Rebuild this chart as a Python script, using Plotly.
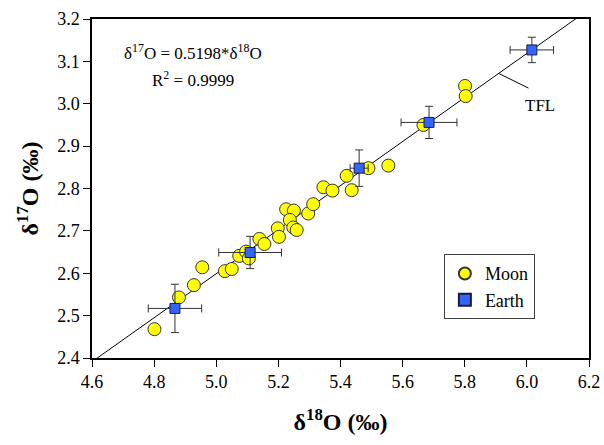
import plotly.graph_objects as go

# Moon samples (delta18O, delta17O)
moon_d18 = [4.801, 4.880, 4.928, 4.955, 5.028, 5.050, 5.074, 5.096, 5.105, 5.139,
            5.155, 5.198, 5.202, 5.225, 5.250, 5.237, 5.248, 5.259, 5.296, 5.312,
            5.345, 5.374, 5.420, 5.436, 5.490, 5.554, 5.667, 5.801, 5.803]
moon_d17 = [2.468, 2.543, 2.572, 2.614, 2.605, 2.610, 2.641, 2.651, 2.635, 2.681,
            2.669, 2.706, 2.686, 2.751, 2.748, 2.726, 2.708, 2.702, 2.741, 2.763,
            2.803, 2.795, 2.830, 2.796, 2.848, 2.854, 2.950, 3.042, 3.018]

# Earth samples with uncertainties
earth_d18 = [4.867, 5.109, 5.460, 5.685, 6.016]
earth_d17 = [2.517, 2.649, 2.848, 2.956, 3.127]
earth_err18 = [0.086, 0.101, 0.029, 0.090, 0.070]
earth_err17 = [0.057, 0.038, 0.043, 0.038, 0.030]

# Terrestrial fractionation line
slope = 0.5198
line_x = [4.6, 6.2]
line_y = [slope * v for v in line_x]

x_ticks = [4.6, 4.8, 5.0, 5.2, 5.4, 5.6, 5.8, 6.0, 6.2]
y_ticks = [2.4, 2.5, 2.6, 2.7, 2.8, 2.9, 3.0, 3.1, 3.2]

FONT = "Liberation Serif, Times New Roman, serif"

fig = go.Figure()
fig.add_trace(go.Scatter(x=line_x, y=line_y, mode="lines",
                         line=dict(color="black", width=1), showlegend=False,
                         hoverinfo="skip"))
fig.add_trace(go.Scatter(x=moon_d18, y=moon_d17, mode="markers", name="Moon",
                         marker=dict(symbol="circle", size=13, color="#FFFF00",
                                     line=dict(color="#333333", width=1))))
fig.add_trace(go.Scatter(x=earth_d18, y=earth_d17, mode="markers", name="Earth",
                         marker=dict(symbol="square", size=10, color="#3366FF",
                                     line=dict(color="#1a1a40", width=1)),
                         error_x=dict(type="data", array=earth_err18, color="#333333",
                                      thickness=1, width=4),
                         error_y=dict(type="data", array=earth_err17, color="#333333",
                                      thickness=1, width=4)))

# TFL leader line and label
fig.add_shape(type="line", x0=5.908, y0=3.072, x1=6.005, y1=3.037,
              line=dict(color="black", width=1))
fig.add_annotation(x=6.042, y=2.997, text="TFL", showarrow=False,
                   font=dict(family=FONT, size=17, color="black"))

fig.add_annotation(x=4.925, y=3.121, text="δ<sup>17</sup>O = 0.5198*δ<sup>18</sup>O",
                   showarrow=False, font=dict(family=FONT, size=17, color="black"))
fig.add_annotation(x=4.925, y=3.058, text="R<sup>2</sup> = 0.9999",
                   showarrow=False, font=dict(family=FONT, size=17, color="black"))

fig.update_layout(
    width=604, height=445,
    margin=dict(l=92, r=15, t=19, b=87),
    plot_bgcolor="white", paper_bgcolor="white",
    font=dict(family=FONT, size=18, color="black"),
    legend=dict(x=0.708, y=0.306, xanchor="left", yanchor="top",
                bgcolor="white", bordercolor="#404040", borderwidth=1,
                font=dict(family=FONT, size=18, color="black"),
                itemwidth=30, tracegroupgap=0,
                itemsizing="constant"),
    xaxis=dict(range=[4.6, 6.2], tickvals=x_ticks, automargin=False,
               ticktext=[f"{v:.1f}" for v in x_ticks],
               showgrid=False, zeroline=False,
               showline=True, linecolor="black", linewidth=1.5, mirror=True,
               ticks="outside", ticklen=7, tickcolor="black",
               tickfont=dict(family=FONT, size=18),
               title=dict(text="<b>δ<sup>18</sup>O (‰)</b>", standoff=22,
                          font=dict(family=FONT, size=24))),
    yaxis=dict(range=[2.4, 3.2], tickvals=y_ticks, automargin=False,
               ticktext=[f"{v:.1f}" for v in y_ticks],
               showgrid=False, zeroline=False,
               showline=True, linecolor="black", linewidth=1.5, mirror=True,
               ticks="outside", ticklen=7, tickcolor="black",
               tickfont=dict(family=FONT, size=18),
               title=dict(text="<b>δ<sup>17</sup>O (‰)</b>", standoff=12,
                          font=dict(family=FONT, size=24))),
)

fig.write_html("out.html", config={"displayModeBar": False},
               post_script="document.body.style.margin='0px';document.body.style.overflow='hidden';")
